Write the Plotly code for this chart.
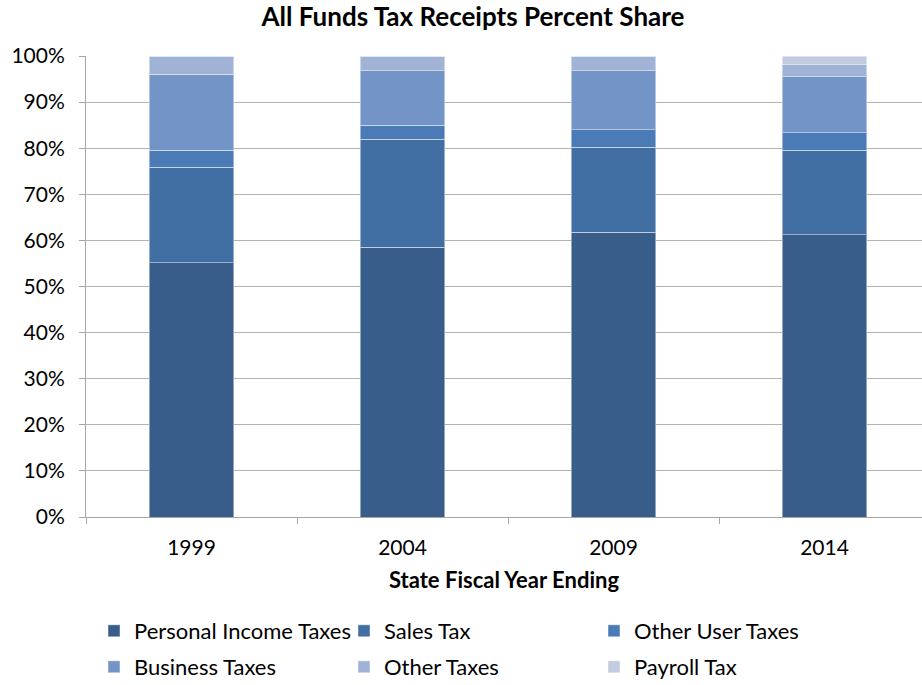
import plotly.graph_objects as go

# Fiscal years (state fiscal year ending)
years = ["1999", "2004", "2009", "2014"]

# Percent share of all-funds tax receipts by category
personal_income = [55.2, 58.5, 61.8, 61.2]
sales_tax = [20.7, 23.4, 18.4, 18.4]
other_user = [3.7, 3.1, 3.8, 3.7]
business = [16.4, 11.8, 12.8, 12.2]
other_taxes = [4.0, 3.2, 3.2, 2.6]
payroll = [0.0, 0.0, 0.0, 1.9]

# name, values, colour, legend row
series = [
    ("Personal Income Taxes", personal_income, "#385D8A", "legend"),
    ("Sales Tax", sales_tax, "#416FA3", "legend"),
    ("Other User Taxes", other_user, "#4A7BB7", "legend"),
    ("Business Taxes", business, "#7394C6", "legend2"),
    ("Other Taxes", other_taxes, "#A0B3D6", "legend2"),
    ("Payroll Tax", payroll, "#C1CCE1", "legend2"),
]

font_family = "Lato, 'Open Sans', sans-serif"

fig = go.Figure()
for name, vals, color, leg in series:
    fig.add_trace(go.Bar(
        x=years,
        y=vals,
        name=name,
        legend=leg,
        marker=dict(color=color, line=dict(color="rgba(255,255,255,0.45)", width=1)),
        hovertemplate="%{x}: %{y:.1f}%<extra>" + name + "</extra>",
    ))

legend_common = dict(
    orientation="h",
    xref="container", xanchor="left",
    yref="container", yanchor="middle",
    entrywidth=205, entrywidthmode="pixels",
    traceorder="normal",
    font=dict(family=font_family, size=22),
    itemwidth=30,
    bgcolor="rgba(0,0,0,0)",
)

fig.update_layout(
    width=922,
    height=685,
    barmode="stack",
    bargap=0.6,
    paper_bgcolor="white",
    plot_bgcolor="white",
    margin=dict(l=86, r=0, t=56, b=168),
    font=dict(family=font_family, size=21, color="#000000"),
    title=dict(
        text="<b>All Funds Tax Receipts Percent Share</b>",
        x=473 / 922, xref="container", xanchor="center",
        y=1 - 17 / 685, yref="container", yanchor="middle",
        font=dict(family=font_family, size=26, color="#000000"),
    ),
    legend=dict(legend_common, x=94 / 922, y=1 - 631 / 685),
    legend2=dict(legend_common, x=94 / 922, y=1 - 667 / 685),
    showlegend=True,
)

fig.update_xaxes(
    type="category",
    range=[-0.5, 3.462],
    showline=True, linecolor="#A6A6A6", linewidth=1,
    ticks="outside", tickson="boundaries", ticklen=6, tickcolor="#A6A6A6",
    showgrid=False,
    tickfont=dict(size=21),
    ticklabelstandoff=12,
    title=dict(text="<b>State Fiscal Year Ending</b>", font=dict(size=22), standoff=14),
)

fig.update_yaxes(
    range=[0, 100],
    tickvals=[0, 10, 20, 30, 40, 50, 60, 70, 80, 90, 100],
    ticktext=["0%", "10%", "20%", "30%", "40%", "50%", "60%", "70%", "80%", "90%", "100%"],
    showline=True, linecolor="#A6A6A6", linewidth=1,
    ticks="outside", ticklen=6, tickcolor="#A6A6A6",
    showgrid=True, gridcolor="#B3B3B3", gridwidth=1,
    zeroline=False,
    tickfont=dict(size=21),
    ticklabelstandoff=10,
)

fig.write_html("out.html")
